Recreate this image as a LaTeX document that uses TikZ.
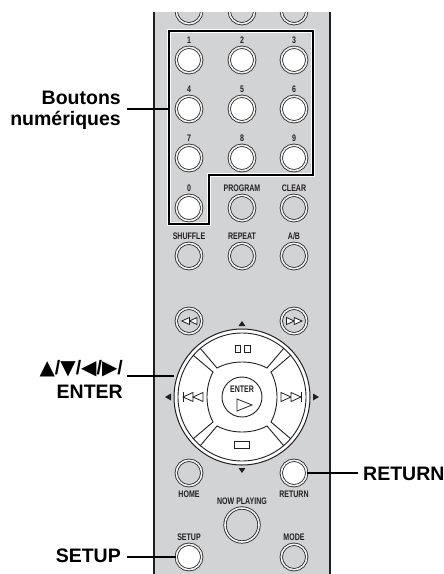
\documentclass[tikz,border=0pt]{standalone}
\usepackage{fontspec}
\setmainfont{Liberation Sans}
\newfontfamily\narrowfont[FakeStretch=0.74]{Liberation Sans}
\newfontfamily\symfont{DejaVu Sans}
\usetikzlibrary{positioning}
\definecolor{panelgray}{HTML}{D1D3D4}
\definecolor{inkdark}{HTML}{231F20}
\newcommand{\tri}[1]{{\symfont\fontsize{20}{22}\selectfont #1}}

\begin{document}
\begin{tikzpicture}[
  x=1pt, y=-1pt,
  btn/.style={circle, draw=inkdark, line width=0.8pt, double=panelgray!30, double distance=1.6pt, minimum size=25.5pt, inner sep=0pt, fill=panelgray},
  btnon/.style={btn, fill=white},
  btnbig/.style={btn, minimum size=34pt},
  key/.style={font=\narrowfont\bfseries\fontsize{9.5}{10}\selectfont, text=inkdark, inner sep=0pt},
  callout/.style={font=\bfseries\fontsize{19.5}{21.5}\selectfont, text=black, align=right, inner sep=0pt},
  lead/.style={line width=1.5pt, black},
  padmark/.style={fill=inkdark, draw=none},
  icon/.style={draw=inkdark, line width=0.8pt, fill=white},
]
\useasboundingbox (0,0) rectangle (444,574);

% === Remote body ===
\fill[panelgray] (154,12) rectangle (330,574);
\draw[inkdark, line width=1.5pt] (154,12) -- (154,574);
\draw[inkdark, line width=1.5pt] (330,12) -- (330,574);

% === Top row, cut by the panel edge ===
\begin{scope}
  \clip (154,12) rectangle (330,574);
  \node[btn] (top1) at (189,11) {};
  \node[btn] (top2) at (242,11) {};
  \node[btn] (top3) at (294,11) {};
\end{scope}

% === Number block outline ===
\draw[white, line width=4pt, line join=miter] (169,31) -- (313,31) -- (313,175) -- (209,175) -- (209,224) -- (169,224) -- cycle;
\draw[black, line width=1.9pt, line join=miter] (169,31) -- (313,31) -- (313,175) -- (209,175) -- (209,224) -- (169,224) -- cycle;
\coordinate (numedge) at (169,109);

% === Number keys ===
\node[btnon] (one) at (189,60) {};
\node[btnon] (two) at (242,60) {};
\node[btnon] (three) at (294,60) {};
\node[btnon] (four) at (189,109) {};
\node[btnon] (five) at (242,109) {};
\node[btnon] (six) at (294,109) {};
\node[btnon] (seven) at (189,158) {};
\node[btnon] (eight) at (242,158) {};
\node[btnon] (nine) at (294,158) {};
\node[btnon] (zero) at (189,208) {};
\node[key, above=3pt of one] {1};
\node[key, above=3pt of two] {2};
\node[key, above=3pt of three] {3};
\node[key, above=3pt of four] {4};
\node[key, above=3pt of five] {5};
\node[key, above=3pt of six] {6};
\node[key, above=3pt of seven] {7};
\node[key, above=3pt of eight] {8};
\node[key, above=3pt of nine] {9};
\node[key, above=3pt of zero] {0};

% === Function keys ===
\node[btn] (program) at (242,208) {};
\node[btn] (clear) at (294,208) {};
\node[btn] (shuffle) at (189,256) {};
\node[btn] (repeatkey) at (242,256) {};
\node[btn] (ab) at (294,256) {};
\node[key, above=3pt of program] {PROGRAM};
\node[key, above=3pt of clear] {CLEAR};
\node[key, above=3pt of shuffle] {SHUFFLE};
\node[key, above=3pt of repeatkey] {REPEAT};
\node[key, above=3pt of ab] {A/B};

% === Skip keys ===
\node[btn] (rew) at (189,321) {};
\node[btn] (ffw) at (294,321) {};
\draw[icon] (181.7,321) -- (189.5,317.5) -- (189.5,324.5) -- cycle;
\draw[icon] (189.5,321) -- (197,317.5) -- (197,324.5) -- cycle;
\draw[icon] (286.5,317.5) -- (294.2,321) -- (286.5,324.5) -- cycle;
\draw[icon] (294.2,317.5) -- (302,321) -- (294.2,324.5) -- cycle;

% === Cursor pad ===
\node[circle, draw=inkdark, line width=1pt, fill=white, minimum size=136pt, inner sep=0pt] (pad) at (242,397) {};
\node[circle, draw=inkdark, line width=0.9pt, fill=white, minimum size=128pt, inner sep=0pt] (padin) at (242,397) {};
\draw[inkdark, line width=0.9pt] (200,348) -- (217,368) .. controls (232,360) and (252,360) .. (267,368) -- (284,348);
\draw[inkdark, line width=0.9pt] (291,355) -- (271,372) .. controls (279,387) and (279,407) .. (271,422) -- (291,439);
\draw[inkdark, line width=0.9pt] (284,446) -- (267,426) .. controls (252,434) and (232,434) .. (217,426) -- (200,446);
\draw[inkdark, line width=0.9pt] (193,439) -- (213,422) .. controls (205,407) and (205,387) .. (213,372) -- (193,355);
\node[circle, draw=inkdark, line width=0.9pt, fill=white, minimum size=40pt, inner sep=0pt] (enter) at (242,397) {};
\node[key] at (242,389) {ENTER};
\draw[icon] (237,399) -- (252,405) -- (237,411) -- cycle;

% pad icons
\draw[icon] (235,345) rectangle (240.5,352.5);
\draw[icon] (244.5,345) rectangle (250,352.5);
\draw[icon] (234.5,441) rectangle (249.5,448);
\draw[icon] (183,397) -- (193,392.5) -- (193,401.5) -- cycle;
\draw[icon] (193,397) -- (203,392.5) -- (203,401.5) -- cycle;
\draw[icon] (183,392) -- (183,402);
\draw[icon] (281,392.5) -- (291,397) -- (281,401.5) -- cycle;
\draw[icon] (291,392.5) -- (301,397) -- (291,401.5) -- cycle;
\draw[icon] (301,392) -- (301,402);

% pad direction marks
\fill[padmark] (242,321) -- (245.5,326) -- (238.5,326) -- cycle;
\fill[padmark] (242,473) -- (245.5,468) -- (238.5,468) -- cycle;
\fill[padmark] (165,397) -- (171,393.5) -- (171,400.5) -- cycle;
\fill[padmark] (319,397) -- (313,393.5) -- (313,400.5) -- cycle;

% === Lower keys ===
\node[btn] (home) at (189,473) {};
\node[btnon] (return) at (294,473) {};
\node[btnbig] (nowplaying) at (242,525) {};
\node[btnon] (setup) at (189,557) {};
\node[btn] (mode) at (294,557) {};
\node[key, below=5pt of home] {HOME};
\node[key, below=5pt of return] {RETURN};
\node[key, above=3pt of nowplaying] {NOW PLAYING};
\node[key, above=3pt of setup] {SETUP};
\node[key, above=3pt of mode] {MODE};

% === Callouts ===
\node[callout, anchor=east] (lblnum) at (121,110.5) {Boutons\\num\'eriques};
\node[callout, anchor=east] (lblpad) at (123,379.5) {\tri{▲}/\tri{▼}/\tri{◀}/\tri{▶}/\\[2pt]ENTER\hspace{2pt}};
\node[callout, anchor=base west] (lblret) at (363,480) {RETURN};
\node[callout, anchor=base east] (lblset) at (121,562) {SETUP};

\coordinate (numstart) at (127,109);
\coordinate (padstart) at (127,376);
\coordinate (setstart) at (127,557);
\draw[lead] (numstart) -- (numedge);
\draw[lead] (padstart) -- (padstart -| pad.west);
\draw[lead, shorten >=5pt] (return.east) -- (return.east -| lblret.west);
\draw[lead] (setstart) -- (setup.west);

\end{tikzpicture}
\end{document}
